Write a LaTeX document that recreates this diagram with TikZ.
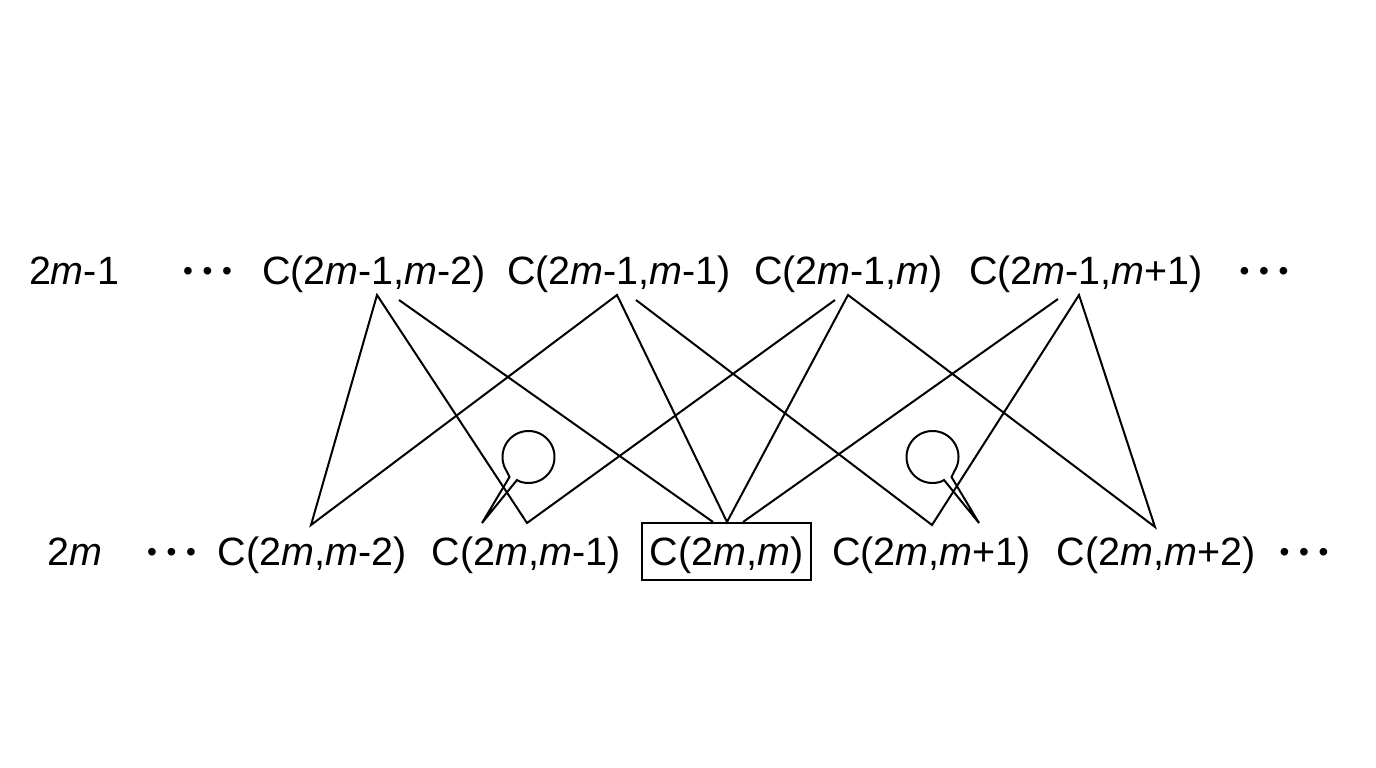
\documentclass[tikz,border=0pt]{standalone}
\usepackage{fontspec}
\setmainfont{Liberation Sans}
\begin{document}
\begin{tikzpicture}[x=1pt,y=-1pt,
  lbl/.style={anchor=base,inner sep=0pt,font=\fontsize{39.5}{47}\selectfont},
  ln/.style={line width=2pt,line join=miter},
  bubble/.style={line width=2pt,line join=miter}]
\useasboundingbox (0,0) rectangle (1376,768);
\newcommand{\onedot}{\raisebox{3.9pt}{\fontsize{28}{28}\selectfont\textbullet}}
\newcommand{\mydots}{\onedot\kern9.7pt\onedot\kern9.7pt\onedot}
% top row
\node[lbl] (r1) at (74,284) {2\textit{m}-1};
\node[lbl] (d1) at (207.5,284) {\mydots};
\node[lbl] (t1) at (374,284) {C(2\textit{m}-1,\textit{m}-2)};
\node[lbl] (t2) at (619,284) {C(2\textit{m}-1,\textit{m}-1)};
\node[lbl] (t3) at (848.5,284) {C(2\textit{m}-1,\textit{m})};
\node[lbl] (t4) at (1086,284) {C(2\textit{m}-1,\textit{m}+1)};
\node[lbl] (d2) at (1264,284) {\mydots};
% bottom row
\node[lbl] (r2) at (75,565) {2\textit{m}};
\node[lbl] (d3) at (171.5,565) {\mydots};
\node[lbl] (b1) at (312,565) {C(2\textit{m},\textit{m}-2)};
\node[lbl] (b2) at (526,565) {C(2\textit{m},\textit{m}-1)};
\node[lbl,draw,line width=2pt,text height=42pt,text depth=15pt,inner xsep=8pt] (b3) at (726.5,565) {C(2\textit{m},\textit{m})};
\node[lbl] (b4) at (931.5,565) {C(2\textit{m},\textit{m}+1)};
\node[lbl] (b5) at (1156,565) {C(2\textit{m},\textit{m}+2)};
\node[lbl] (d4) at (1304,565) {\mydots};
% connector end points
\coordinate (a0) at (377,295);
\coordinate (a1) at (399,300);
\coordinate (bb0) at (617,295);
\coordinate (bb1) at (636,300);
\coordinate (c0) at (848,295);
\coordinate (c1) at (835,300);
\coordinate (e0) at (1079,295);
\coordinate (e1) at (1058,299);
\coordinate (p) at (311,525);
\coordinate (q) at (527,523);
\coordinate (m0) at (713,522);
\coordinate (m1) at (727,522);
\coordinate (m2) at (743,522);
\coordinate (s) at (932,525);
\coordinate (t) at (1155,527);
\coordinate (lt) at (482,523);
\coordinate (rt) at (979,523);
% connectors
\draw[ln] (c1) -- (q) -- (a0) -- (p) -- (bb0) -- (m1) -- (c0) -- (t) -- (e0) -- (s) -- (bb1);
\draw[ln] (a1) -- (m0);
\draw[ln] (e1) -- (m2);
% bubbles
\draw[bubble] (509.5,477) -- (lt) -- (517,480) -- plot[domain=109.5:-211.3,samples=90,smooth] ({528.5+26*cos(\x)},{457+26*sin(\x)}) -- cycle;
\draw[bubble] (951.5,477) -- (rt) -- (944,480) -- plot[domain=70.5:391.3,samples=90,smooth] ({932.5+26*cos(\x)},{457+26*sin(\x)}) -- cycle;
\end{tikzpicture}
\end{document}
